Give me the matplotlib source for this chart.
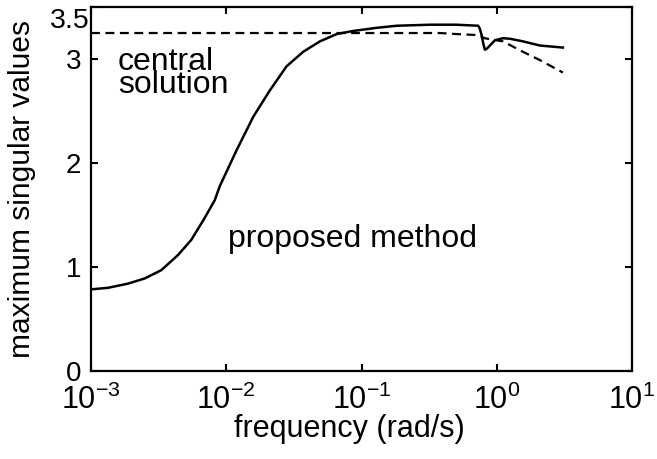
import numpy as np
import matplotlib
matplotlib.use('Agg')
import matplotlib.pyplot as plt

plt.rcParams['font.family'] = ['Liberation Sans', 'DejaVu Sans']
plt.rcParams['mathtext.fontset'] = 'custom'
plt.rcParams['mathtext.rm'] = 'Liberation Sans'
plt.rcParams['mathtext.it'] = 'Liberation Sans'

# log10 of frequency (rad/s) and max singular value, proposed method
logw_prop = [-3.0, -2.874, -2.727, -2.603, -2.48, -2.357, -2.259, -2.165, -2.086,
             -2.047, -1.923, -1.8, -1.677, -1.554, -1.431, -1.307, -1.184,
             -1.061, -0.888, -0.74, -0.49, -0.3, -0.137, -0.125, -0.112, -0.1,
             -0.088, -0.073, -0.051, -0.014, 0.045, 0.097, 0.193, 0.318, 0.489]
sv_prop = [0.785, 0.80, 0.84, 0.89, 0.97, 1.115, 1.26, 1.46, 1.64,
           1.78, 2.125, 2.445, 2.70, 2.93, 3.07, 3.17, 3.24,
           3.27, 3.30, 3.32, 3.33, 3.33, 3.32, 3.29, 3.23, 3.15,
           3.09, 3.10, 3.13, 3.18, 3.20, 3.195, 3.17, 3.13, 3.11]

# central solution
logw_cent = [-3.0, -1.0, -0.42, -0.3, -0.137, -0.09, 0.045, 0.193, 0.318, 0.489]
sv_cent = [3.25, 3.25, 3.25, 3.24, 3.23, 3.20, 3.17, 3.07, 2.99, 2.87]

xticks = [1e-3, 1e-2, 1e-1, 1e0, 1e1]
xticklabels = [r'$10^{-3}$', r'$10^{-2}$', r'$10^{-1}$', r'$10^{0}$', r'$10^{1}$']
yticks = [0, 1, 2, 3, 3.5]
yticklabels = ['0', '1', '2', '3', '']

fig = plt.figure(figsize=(6.57, 4.59), dpi=100)
ax = fig.add_axes([0.1385, 0.1917, 0.8235, 0.793])

ax.semilogx(10 ** np.array(logw_prop), sv_prop, color='black', lw=1.8)
ax.semilogx(10 ** np.array(logw_cent), sv_cent, color='black', lw=1.6,
            linestyle=(0, (4, 2.5)))

ax.set_xlim(1e-3, 1e1)
ax.set_ylim(0, 3.5)
ax.set_xticks(xticks)
ax.set_xticklabels(xticklabels)
ax.minorticks_off()
ax.set_yticks(yticks)
ax.set_yticklabels(yticklabels)

ax.tick_params(direction='in', length=5, width=1.5, top=True, right=True)
ax.tick_params(axis='x', labelsize=22, pad=10)
ax.tick_params(axis='y', labelsize=20, pad=7)
for sp in ax.spines.values():
    sp.set_linewidth(1.6)

# top label sits below its tick, tucked against the axis
ax.text(-0.002, 0.998, '3.5', transform=ax.transAxes, ha='right', va='top',
        fontsize=20.5)

ax.set_xlabel('frequency (rad/s)', fontsize=22)
ax.xaxis.set_label_coords(0.477, -0.118)
ax.set_ylabel('maximum singular values', fontsize=21.5)
ax.yaxis.set_label_coords(-0.102, 0.5)

# baseline here is that of the second line
ax.text(0.00158, 2.67, 'central\nsolution', fontsize=23, va='baseline',
        linespacing=0.70)
ax.text(0.0103, 1.19, 'proposed method', fontsize=23, va='baseline')

fig.savefig('out.png', dpi=100)
